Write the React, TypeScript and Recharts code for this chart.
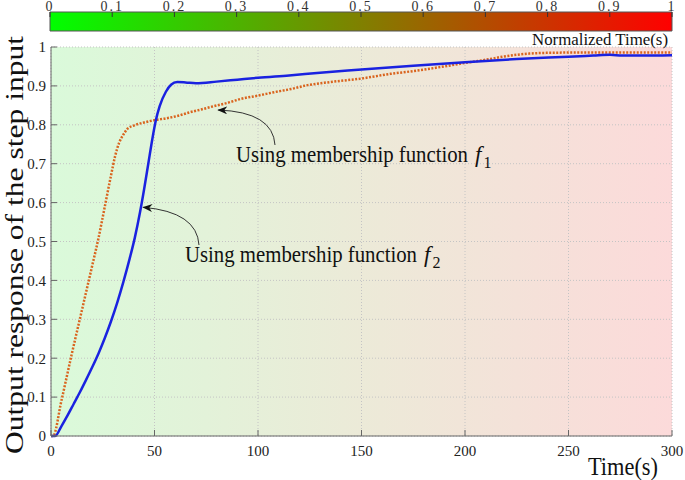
import { LineChart, Line, XAxis, YAxis, CartesianGrid, ComposedChart, ReferenceArea } from "recharts"

// f1: dotted orange curve, f2: solid blue curve
const f1Time = [0, 1, 5, 10, 15, 20, 23, 26, 29, 31, 33, 35, 37, 40, 45, 50, 56, 62, 67, 73, 78, 85, 92, 100, 108, 116, 124, 132, 140, 150, 157, 164, 172, 180, 190, 200, 206, 212, 218, 225, 231, 240, 260, 280, 300]
const f1Value = [0, 0, 0.09, 0.21, 0.325, 0.44, 0.51, 0.59, 0.67, 0.72, 0.755, 0.775, 0.79, 0.798, 0.806, 0.812, 0.817, 0.824, 0.832, 0.84, 0.847, 0.856, 0.867, 0.875, 0.884, 0.892, 0.902, 0.908, 0.913, 0.919, 0.925, 0.931, 0.936, 0.942, 0.95, 0.959, 0.964, 0.969, 0.975, 0.98, 0.983, 0.985, 0.986, 0.986, 0.986]

const f2Time = [0, 2, 5, 8, 11, 14, 17, 20, 23, 26, 29, 32, 35, 38, 40.5, 43, 45, 47, 49, 50.5, 52.5, 55.5, 58, 61, 65, 70, 80, 90, 100, 115, 130, 150, 175, 200, 225, 250, 262, 270, 276, 285, 300]
const f2Value = [0, 0, 0.025, 0.053, 0.083, 0.113, 0.145, 0.178, 0.213, 0.252, 0.295, 0.343, 0.397, 0.456, 0.51, 0.575, 0.635, 0.7, 0.765, 0.808, 0.848, 0.885, 0.903, 0.91, 0.909, 0.907, 0.911, 0.916, 0.921, 0.927, 0.934, 0.942, 0.952, 0.961, 0.969, 0.975, 0.978, 0.98, 0.978, 0.978, 0.979]

const xTicks = [0, 50, 100, 150, 200, 250, 300]
const yTicks = [0, 0.1, 0.2, 0.3, 0.4, 0.5, 0.6, 0.7, 0.8, 0.9, 1]
const barTicks = [0, 0.1, 0.2, 0.3, 0.4, 0.5, 0.6, 0.7, 0.8, 0.9, 1]

const f1Data = f1Time.map((t, i) => ({ t, v: f1Value[i] }))
const f2Data = f2Time.map((t, i) => ({ t, v: f2Value[i] }))

const FONT = "Liberation Serif"

// plot box, must match the chart margins below
const PL = 51, PR = 672, PT = 47, PB = 436
const px = (t: number) => PL + (t / 300) * (PR - PL)
const py = (v: number) => PB - v * (PB - PT)

const tickStyle = { fill: "#222", fontSize: 15, fontFamily: FONT }

function Label({ x, y, sub }: { x: number; y: number; sub: string }) {
  return (
    <text x={x} y={y} fontSize={24} fill="#111">
      <tspan textLength={232} lengthAdjust="spacingAndGlyphs">Using membership function</tspan>
      <tspan dx={7} fontStyle="italic" fontSize={23}>f</tspan>
      <tspan dx={2} dy={6} fontSize={16}>{sub}</tspan>
    </text>
  )
}

function Annotations() {
  const tip1 = { x: px(80.8), y: py(0.838) }
  const tip2 = { x: px(44.6), y: py(0.588) }
  return (
    <svg width={685} height={480} style={{ position: "absolute", left: 0, top: 0, pointerEvents: "none" }} fontFamily={FONT}>
      <defs>
        <marker id="ah" markerWidth="10" markerHeight="8" refX="9" refY="4" orient="auto" markerUnits="userSpaceOnUse">
          <path d="M0,0 L10,4 L0,8 L3,4 z" fill="#111" />
        </marker>
      </defs>
      <path d={`M 275 145 Q 273 112 ${tip1.x} ${tip1.y}`} fill="none" stroke="#333" strokeWidth={1} markerEnd="url(#ah)" />
      <path d={`M 199 245 Q 197 212 ${tip2.x} ${tip2.y}`} fill="none" stroke="#333" strokeWidth={1} markerEnd="url(#ah)" />

      <Label x={236} y={162} sub="1" />
      <Label x={185} y={262} sub="2" />

      <text x={588} y={475} fontSize={26} fill="#111" textLength={70} lengthAdjust="spacingAndGlyphs">Time(s)</text>
      <text transform="translate(23,454) rotate(-90)" fontSize={26} fill="#111" textLength={418} lengthAdjust="spacingAndGlyphs">Output response of the step input</text>
      <text x={532} y={45} fontSize={17} fill="#111" textLength={136} lengthAdjust="spacingAndGlyphs">Normalized Time(s)</text>
    </svg>
  )
}

function ColorBar() {
  return (
    <ComposedChart width={685} height={40} data={barTicks.map((x) => ({ x, y: 0 }))} margin={{ top: 0, right: 13, bottom: 9, left: 50 }}>
      <defs>
        <linearGradient id="cbar" x1="0" y1="0" x2="1" y2="0">
          <stop offset="0" stopColor="#00ff00" />
          <stop offset="0.5" stopColor="#808000" />
          <stop offset="1" stopColor="#ff0000" />
        </linearGradient>
      </defs>
      <XAxis dataKey="x" type="number" orientation="top" domain={[0, 1]} ticks={barTicks} interval={0} height={12}
        axisLine={false} tickSize={-5} tickMargin={6} stroke="#333"
        tick={{ fill: "#333", fontSize: 14, fontFamily: FONT, letterSpacing: 2 }} />
      <YAxis type="number" domain={[0, 1]} hide />
      <ReferenceArea x1={0} x2={1} y1={0} y2={1} fill="url(#cbar)" fillOpacity={1} stroke="#555" strokeWidth={1} ifOverflow="extendDomain" />
    </ComposedChart>
  )
}

export default function App() {
  return (
    <div style={{ position: "absolute", left: 0, top: 0, width: 685, height: 480, background: "#fff", fontFamily: FONT }}>
      <div style={{ position: "absolute", left: 0, top: 0 }}>
        <LineChart width={685} height={480} margin={{ top: PT, right: 685 - PR, bottom: 0, left: 0 }}>
          <defs>
            <linearGradient id="bg" x1="0" y1="0" x2="1" y2="0">
              <stop offset="0" stopColor="rgb(218,250,218)" />
              <stop offset="0.5" stopColor="rgb(236,234,216)" />
              <stop offset="1" stopColor="rgb(252,218,218)" />
            </linearGradient>
          </defs>
          <CartesianGrid fill="url(#bg)" fillOpacity={1} stroke="#c4c4c4" strokeDasharray="1 2" horizontalValues={yTicks} verticalValues={xTicks} />
          <XAxis dataKey="t" type="number" domain={[0, 300]} ticks={xTicks} interval={0} height={480 - PB}
            stroke="#666" tickSize={-6} tickMargin={15} tick={tickStyle} allowDuplicatedCategory={false} />
          <XAxis xAxisId="top" dataKey="t" type="number" orientation="top" domain={[0, 300]} ticks={xTicks} interval={0} height={0}
            stroke="#888" tickSize={-6} tick={false} />
          <YAxis type="number" domain={[0, 1]} ticks={yTicks} interval={0} width={PL}
            stroke="#666" tickSize={-6} tickMargin={11} tick={tickStyle} />
          <YAxis yAxisId="right" type="number" orientation="right" domain={[0, 1]} ticks={yTicks} interval={0} width={0}
            stroke="#888" tickSize={-6} tick={false} />
          <Line data={f1Data} dataKey="v" type="monotone" stroke="#d9641e" strokeWidth={2.5} strokeDasharray="2 1.5" dot={false} isAnimationActive={false} />
          <Line data={f2Data} dataKey="v" type="monotone" stroke="#1a22e0" strokeWidth={2.5} dot={false} isAnimationActive={false} />
        </LineChart>
      </div>
      <div style={{ position: "absolute", left: 0, top: 0 }}>
        <ColorBar />
      </div>
      <Annotations />
    </div>
  )
}
